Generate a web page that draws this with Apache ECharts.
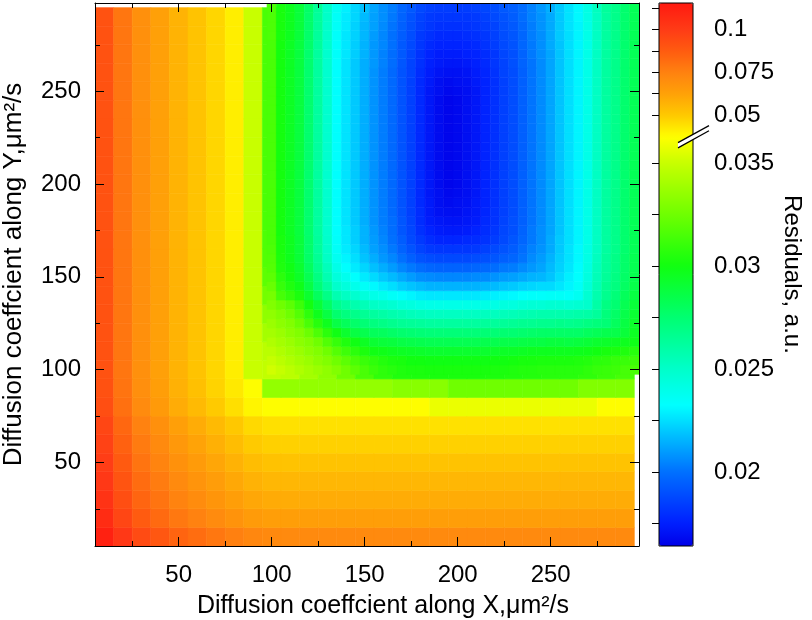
<!DOCTYPE html>
<html><head><meta charset="utf-8">
<script src="https://cdn.jsdelivr.net/npm/echarts@6/dist/echarts.min.js"></script>
<style>html,body{margin:0;padding:0;background:#fff}#chart{width:812px;height:620px}</style>
</head><body><div id="chart"></div>
<script>
// ---------------- DATA ----------------
const xCoarse = [10,20,30,40,50,60,70,80,90,100,110,120,130,140,150,160,170,180,190,200,210,220,230,240,250,260,270,280,290];
const yCoarse = [10,20,30,40,50,60,70,80,90,100,110,120,130,140,150,160,170,180,190,200,210,220,230,240,250,260,270,280,290];
// coarse rows y = 10..100, columns x = 10..290
const coarseBottom = [
[0.112,0.1016,0.0938,0.0891,0.0846,0.0814,0.0782,0.0752,0.0726,0.0716,0.0714,0.0714,0.0714,0.0714,0.0714,0.0714,0.0714,0.0714,0.0714,0.0714,0.0714,0.0714,0.0714,0.0714,0.0714,0.0714,0.0714,0.0714,0.0714],
[0.1065,0.0957,0.0876,0.0825,0.0778,0.0743,0.0709,0.0676,0.0647,0.0636,0.0634,0.0634,0.0634,0.0634,0.0634,0.0634,0.0634,0.0634,0.0634,0.0634,0.0634,0.0634,0.0634,0.0634,0.0634,0.0634,0.0634,0.0634,0.0634],
[0.1037,0.0927,0.0843,0.0791,0.0742,0.0705,0.067,0.0635,0.0604,0.0592,0.059,0.059,0.059,0.059,0.059,0.059,0.059,0.059,0.059,0.059,0.059,0.059,0.059,0.059,0.059,0.059,0.059,0.059,0.059],
[0.1015,0.0903,0.0817,0.0764,0.0713,0.0675,0.0638,0.0601,0.0569,0.0556,0.0554,0.0554,0.0554,0.0554,0.0554,0.0554,0.0554,0.0554,0.0554,0.0554,0.0554,0.0554,0.0554,0.0554,0.0554,0.0554,0.0554,0.0554,0.0554],
[0.0994,0.088,0.0792,0.0738,0.0685,0.0646,0.0608,0.0569,0.0534,0.052,0.0518,0.0518,0.0518,0.0518,0.0518,0.0518,0.0518,0.0518,0.0518,0.0518,0.0518,0.0518,0.0518,0.0518,0.0518,0.0518,0.0518,0.0518,0.0518],
[0.0973,0.0857,0.0768,0.0712,0.0657,0.0617,0.0576,0.0535,0.0497,0.0482,0.048,0.048,0.048,0.048,0.048,0.048,0.048,0.048,0.048,0.048,0.048,0.048,0.048,0.048,0.048,0.048,0.048,0.048,0.048],
[0.0955,0.0837,0.0745,0.0688,0.0631,0.0589,0.0546,0.0502,0.0461,0.0445,0.0442,0.0442,0.0442,0.0442,0.0442,0.0442,0.0442,0.0442,0.0442,0.0442,0.0442,0.0442,0.0442,0.0442,0.0442,0.0442,0.0442,0.0442,0.0442],
[0.0926,0.0804,0.071,0.0649,0.0589,0.0544,0.0497,0.0446,0.0396,0.0374,0.037,0.037,0.037,0.037,0.037,0.037,0.037,0.037,0.0358,0.0358,0.0358,0.0358,0.0358,0.0358,0.0358,0.0358,0.0358,0.0366,0.0366],
[0.0914,0.0792,0.0696,0.0634,0.0573,0.0525,0.0476,0.0422,0.0365,0.0335,0.0335,0.0335,0.0335,0.0335,0.0335,0.0335,0.0332,0.0332,0.0332,0.0325,0.0325,0.0325,0.0325,0.0325,0.0325,0.0325,0.033,0.033,0.033],
[0.091,0.0787,0.069,0.0628,0.0566,0.0518,0.0468,0.0412,0.035,0.0348,0.0346,0.034,0.0334,0.0325,0.0315,0.0308,0.0304,0.0303,0.0302,0.0302,0.0302,0.0303,0.0304,0.0305,0.0306,0.0306,0.0308,0.0311,0.0314]
];
// coarse rows y = 110..290, columns x = 10..100
const coarseLeft = [
[0.091,0.0787,0.069,0.0628,0.0566,0.0518,0.0468,0.0412,0.035,0.0346],
[0.091,0.0787,0.069,0.0628,0.0566,0.0518,0.0468,0.0412,0.035,0.034],
[0.091,0.0787,0.069,0.0628,0.0566,0.0518,0.0468,0.0412,0.035,0.0334],
[0.091,0.0787,0.069,0.0628,0.0566,0.0518,0.0468,0.0412,0.035,0.0326],
[0.091,0.0787,0.069,0.0628,0.0566,0.0518,0.0468,0.0412,0.035,0.032],
[0.091,0.0787,0.069,0.0628,0.0566,0.0518,0.0468,0.0412,0.035,0.0317],
[0.091,0.0787,0.069,0.0628,0.0566,0.0518,0.0468,0.0412,0.035,0.0316],
[0.091,0.0787,0.069,0.0628,0.0566,0.0518,0.0468,0.0412,0.035,0.0315],
[0.091,0.0787,0.069,0.0628,0.0566,0.0518,0.0468,0.0412,0.035,0.0315],
[0.091,0.0787,0.069,0.0628,0.0566,0.0518,0.0468,0.0412,0.035,0.0315],
[0.091,0.0787,0.069,0.0628,0.0566,0.0518,0.0468,0.0412,0.035,0.0315],
[0.091,0.0787,0.069,0.0628,0.0566,0.0518,0.0468,0.0412,0.035,0.0315],
[0.091,0.0787,0.069,0.0628,0.0566,0.0518,0.0468,0.0412,0.035,0.0315],
[0.091,0.0787,0.069,0.0628,0.0566,0.0518,0.0468,0.0412,0.035,0.0315],
[0.091,0.0787,0.069,0.0628,0.0566,0.0518,0.0468,0.0412,0.035,0.0315],
[0.091,0.0787,0.069,0.0628,0.0566,0.0518,0.0468,0.0412,0.035,0.0315],
[0.091,0.0787,0.069,0.0628,0.0566,0.0518,0.0468,0.0412,0.035,0.0315],
[0.091,0.0787,0.069,0.0628,0.0566,0.0518,0.0468,0.0412,0.035,0.0315],
[0.091,0.0787,0.069,0.0628,0.0566,0.0518,0.0468,0.0412,0.035,0.0315]
];
const xFine = [100,105,110,115,120,125,130,135,140,145,150,155,160,165,170,175,180,185,190,195,200,205,210,215,220,225,230,235,240,245,250,255,260,265,270,275,280,285,290,295];
const yFine = [100,105,110,115,120,125,130,135,140,145,150,155,160,165,170,175,180,185,190,195,200,205,210,215,220,225,230,235,240,245,250,255,260,265,270,275,280,285,290,295];
// fine rows y = 100..295, columns x = 100..295
const fineRows = [
[0.0352,0.0349,0.0346,0.0343,0.034,0.0337,0.0334,0.033,0.0325,0.032,0.0315,0.0311,0.0308,0.0306,0.0304,0.0303,0.0303,0.0302,0.0302,0.0302,0.0302,0.0302,0.0302,0.0302,0.0303,0.0303,0.0304,0.0305,0.0305,0.0306,0.0306,0.0306,0.0306,0.0306,0.0308,0.031,0.0311,0.0312,0.0314,0.0315],
[0.0349,0.0346,0.0343,0.034,0.0337,0.0333,0.033,0.0325,0.032,0.0315,0.0311,0.0308,0.0305,0.0303,0.0302,0.03,0.03,0.0299,0.0299,0.0299,0.0299,0.0299,0.0299,0.0299,0.03,0.03,0.0301,0.0302,0.0302,0.0303,0.0303,0.0303,0.0303,0.0304,0.0305,0.0307,0.0308,0.031,0.0311,0.0312],
[0.0346,0.0343,0.034,0.0337,0.0333,0.033,0.0325,0.0318,0.0312,0.0307,0.0303,0.0299,0.0298,0.0296,0.0295,0.0294,0.0293,0.0292,0.0292,0.0292,0.0292,0.0292,0.0292,0.0292,0.0293,0.0294,0.0294,0.0295,0.0296,0.0296,0.0296,0.0296,0.0296,0.0297,0.0298,0.03,0.0302,0.0303,0.0304,0.0306],
[0.0343,0.034,0.0337,0.0333,0.033,0.0325,0.0317,0.031,0.0304,0.0299,0.0295,0.0291,0.0289,0.0288,0.0286,0.0285,0.0284,0.0283,0.0283,0.0283,0.0283,0.0283,0.0283,0.0284,0.0284,0.0285,0.0285,0.0286,0.0287,0.0287,0.0288,0.0288,0.0287,0.0288,0.029,0.0292,0.0293,0.0295,0.0296,0.0298],
[0.034,0.0337,0.0333,0.033,0.0324,0.0316,0.0307,0.0299,0.0292,0.0287,0.0284,0.0281,0.028,0.0278,0.0276,0.0275,0.0274,0.0273,0.0273,0.0273,0.0273,0.0273,0.0273,0.0274,0.0274,0.0275,0.0275,0.0276,0.0277,0.0278,0.0278,0.0278,0.0278,0.0278,0.028,0.0282,0.0284,0.0285,0.0289,0.0295],
[0.0337,0.0333,0.033,0.0324,0.0315,0.0306,0.0296,0.0286,0.0281,0.0277,0.0274,0.0271,0.0269,0.0267,0.0265,0.0264,0.0263,0.0262,0.0262,0.0262,0.0262,0.0262,0.0262,0.0263,0.0263,0.0264,0.0265,0.0266,0.0266,0.0267,0.0267,0.0268,0.0267,0.0268,0.027,0.0272,0.0274,0.028,0.0287,0.0293],
[0.0334,0.033,0.0325,0.0318,0.0308,0.0297,0.0287,0.0276,0.0271,0.0268,0.0265,0.0262,0.026,0.0258,0.0256,0.0254,0.0253,0.0252,0.0252,0.0252,0.0252,0.0252,0.0252,0.0253,0.0253,0.0254,0.0255,0.0256,0.0257,0.0258,0.0258,0.0258,0.0258,0.0259,0.026,0.0263,0.0272,0.0278,0.0285,0.0291],
[0.033,0.0325,0.032,0.0312,0.0301,0.029,0.0279,0.0267,0.0262,0.0258,0.0255,0.0251,0.0249,0.0247,0.0244,0.0243,0.0241,0.024,0.024,0.024,0.024,0.024,0.024,0.0241,0.0241,0.0243,0.0243,0.0245,0.0246,0.0246,0.0247,0.0247,0.0246,0.0247,0.0249,0.026,0.027,0.0275,0.0283,0.0289],
[0.0327,0.0314,0.0309,0.0303,0.0292,0.028,0.0269,0.0257,0.0252,0.0248,0.0244,0.024,0.0238,0.0235,0.0232,0.023,0.0228,0.0227,0.0227,0.0227,0.0227,0.0227,0.0227,0.0228,0.0229,0.023,0.0231,0.0233,0.0234,0.0234,0.0235,0.0235,0.0234,0.0237,0.0247,0.0258,0.0267,0.0273,0.0281,0.0287],
[0.0323,0.031,0.0304,0.0298,0.0287,0.0274,0.0262,0.0249,0.0244,0.0239,0.0235,0.0231,0.0228,0.0225,0.0221,0.0219,0.0217,0.0215,0.0215,0.0215,0.0215,0.0215,0.0215,0.0216,0.0217,0.0219,0.022,0.0222,0.0223,0.0224,0.0224,0.0227,0.023,0.0235,0.0245,0.0256,0.0266,0.0271,0.0279,0.0285],
[0.032,0.0307,0.0301,0.0294,0.0283,0.027,0.0257,0.0244,0.0238,0.0233,0.0228,0.0224,0.022,0.0217,0.0213,0.021,0.0207,0.0206,0.0205,0.0205,0.0205,0.0205,0.0206,0.0206,0.0208,0.021,0.0211,0.0213,0.0215,0.0216,0.0219,0.0224,0.0229,0.0233,0.0243,0.0255,0.0264,0.027,0.0278,0.0284],
[0.0318,0.0304,0.0299,0.0292,0.028,0.0267,0.0254,0.024,0.0233,0.0228,0.0223,0.0218,0.0214,0.021,0.0205,0.0202,0.0199,0.0197,0.0196,0.0196,0.0196,0.0196,0.0197,0.0198,0.0199,0.0202,0.0203,0.0206,0.0209,0.0212,0.0217,0.0222,0.0227,0.0232,0.0242,0.0254,0.0263,0.0269,0.0277,0.0283],
[0.0317,0.0303,0.0297,0.029,0.0278,0.0265,0.0251,0.0237,0.023,0.0225,0.0219,0.0214,0.0209,0.0205,0.02,0.0195,0.0191,0.0189,0.0188,0.0188,0.0188,0.0188,0.0189,0.019,0.0192,0.0195,0.0197,0.0201,0.0206,0.021,0.0215,0.0221,0.0226,0.0231,0.0241,0.0253,0.0263,0.0269,0.0277,0.0283],
[0.0316,0.0302,0.0296,0.0289,0.0277,0.0263,0.025,0.0235,0.0228,0.0223,0.0217,0.0211,0.0207,0.0202,0.0196,0.0191,0.0186,0.0183,0.0182,0.0182,0.0182,0.0182,0.0183,0.0185,0.0188,0.0191,0.0194,0.0199,0.0204,0.0208,0.0213,0.022,0.0226,0.0231,0.0241,0.0252,0.0262,0.0268,0.0276,0.0282],
[0.0315,0.0302,0.0296,0.0289,0.0277,0.0263,0.0249,0.0234,0.0227,0.0221,0.0215,0.021,0.0205,0.02,0.0194,0.0188,0.0183,0.0179,0.0177,0.0177,0.0177,0.0178,0.0179,0.0181,0.0184,0.0188,0.0192,0.0197,0.0202,0.0207,0.0213,0.022,0.0225,0.023,0.024,0.0252,0.0262,0.0268,0.0276,0.0282],
[0.0315,0.0301,0.0295,0.0288,0.0276,0.0262,0.0248,0.0233,0.0227,0.0221,0.0215,0.0209,0.0204,0.0199,0.0192,0.0187,0.018,0.0176,0.0174,0.0173,0.0173,0.0174,0.0176,0.0179,0.0182,0.0187,0.019,0.0196,0.0202,0.0207,0.0212,0.0219,0.0225,0.023,0.024,0.0252,0.0262,0.0268,0.0276,0.0282],
[0.0315,0.0301,0.0295,0.0288,0.0276,0.0262,0.0248,0.0233,0.0226,0.022,0.0214,0.0208,0.0203,0.0199,0.0192,0.0186,0.0179,0.0174,0.0172,0.0171,0.0171,0.0172,0.0174,0.0178,0.0181,0.0186,0.019,0.0195,0.0201,0.0206,0.0212,0.0219,0.0225,0.023,0.024,0.0252,0.0262,0.0268,0.0276,0.0282],
[0.0315,0.0301,0.0295,0.0288,0.0276,0.0262,0.0248,0.0233,0.0226,0.022,0.0214,0.0208,0.0203,0.0198,0.0191,0.0185,0.0179,0.0173,0.017,0.0169,0.0169,0.0171,0.0173,0.0177,0.0181,0.0185,0.0189,0.0195,0.0201,0.0206,0.0212,0.0219,0.0225,0.023,0.024,0.0252,0.0262,0.0268,0.0276,0.0282],
[0.0315,0.0301,0.0295,0.0288,0.0276,0.0262,0.0248,0.0233,0.0226,0.022,0.0214,0.0208,0.0203,0.0198,0.0191,0.0185,0.0178,0.0173,0.0169,0.0168,0.0169,0.017,0.0173,0.0176,0.018,0.0185,0.0189,0.0195,0.0201,0.0206,0.0212,0.0219,0.0225,0.023,0.024,0.0252,0.0262,0.0268,0.0276,0.0282],
[0.0315,0.0301,0.0295,0.0288,0.0276,0.0262,0.0248,0.0233,0.0226,0.022,0.0214,0.0208,0.0203,0.0198,0.0191,0.0185,0.0178,0.0172,0.0169,0.0167,0.0168,0.0169,0.0172,0.0176,0.018,0.0185,0.0189,0.0195,0.0201,0.0206,0.0212,0.0219,0.0225,0.023,0.024,0.0252,0.0262,0.0268,0.0276,0.0282],
[0.0315,0.0301,0.0295,0.0288,0.0276,0.0262,0.0248,0.0233,0.0226,0.022,0.0214,0.0208,0.0203,0.0198,0.0191,0.0185,0.0178,0.0172,0.0168,0.0166,0.0167,0.0169,0.0172,0.0176,0.018,0.0185,0.0189,0.0195,0.0201,0.0206,0.0212,0.0219,0.0225,0.023,0.024,0.0252,0.0262,0.0268,0.0276,0.0282],
[0.0315,0.0301,0.0295,0.0288,0.0276,0.0262,0.0248,0.0233,0.0226,0.022,0.0214,0.0208,0.0203,0.0198,0.0191,0.0185,0.0178,0.0172,0.0168,0.0166,0.0167,0.0169,0.0172,0.0176,0.018,0.0185,0.0189,0.0195,0.0201,0.0206,0.0212,0.0219,0.0225,0.023,0.024,0.0252,0.0262,0.0268,0.0276,0.0282],
[0.0315,0.0301,0.0295,0.0288,0.0276,0.0262,0.0248,0.0233,0.0226,0.022,0.0214,0.0208,0.0203,0.0198,0.0191,0.0185,0.0178,0.0172,0.0168,0.0166,0.0167,0.0169,0.0172,0.0176,0.018,0.0185,0.0189,0.0195,0.0201,0.0206,0.0212,0.0219,0.0225,0.023,0.024,0.0252,0.0262,0.0268,0.0276,0.0282],
[0.0315,0.0301,0.0295,0.0288,0.0276,0.0262,0.0248,0.0233,0.0226,0.022,0.0214,0.0208,0.0203,0.0198,0.0191,0.0185,0.0178,0.0172,0.0168,0.0166,0.0167,0.0169,0.0172,0.0176,0.018,0.0185,0.0189,0.0195,0.0201,0.0206,0.0212,0.0219,0.0225,0.023,0.024,0.0252,0.0262,0.0268,0.0276,0.0282],
[0.0315,0.0301,0.0295,0.0288,0.0276,0.0262,0.0248,0.0233,0.0226,0.022,0.0214,0.0208,0.0203,0.0198,0.0191,0.0185,0.0178,0.0172,0.0168,0.0166,0.0167,0.0169,0.0172,0.0176,0.018,0.0185,0.0189,0.0195,0.0201,0.0206,0.0212,0.0219,0.0225,0.023,0.024,0.0252,0.0262,0.0268,0.0276,0.0282],
[0.0315,0.0301,0.0295,0.0288,0.0276,0.0262,0.0248,0.0233,0.0226,0.022,0.0214,0.0208,0.0203,0.0198,0.0191,0.0185,0.0178,0.0172,0.0168,0.0166,0.0167,0.0169,0.0172,0.0176,0.018,0.0185,0.0189,0.0195,0.0201,0.0206,0.0212,0.0219,0.0225,0.023,0.024,0.0252,0.0262,0.0268,0.0276,0.0282],
[0.0315,0.0301,0.0295,0.0288,0.0276,0.0262,0.0248,0.0233,0.0226,0.022,0.0214,0.0208,0.0203,0.0198,0.0191,0.0185,0.0178,0.0172,0.0168,0.0166,0.0167,0.0169,0.0172,0.0176,0.018,0.0185,0.0189,0.0195,0.0201,0.0206,0.0212,0.0219,0.0225,0.023,0.024,0.0252,0.0262,0.0268,0.0276,0.0282],
[0.0315,0.0301,0.0295,0.0288,0.0276,0.0262,0.0248,0.0233,0.0226,0.022,0.0214,0.0208,0.0203,0.0198,0.0191,0.0185,0.0178,0.0172,0.0168,0.0166,0.0167,0.0169,0.0172,0.0176,0.018,0.0185,0.0189,0.0195,0.0201,0.0206,0.0212,0.0219,0.0225,0.023,0.024,0.0252,0.0262,0.0268,0.0276,0.0282],
[0.0315,0.0301,0.0295,0.0288,0.0276,0.0262,0.0248,0.0233,0.0226,0.022,0.0214,0.0208,0.0203,0.0198,0.0191,0.0185,0.0178,0.0172,0.0168,0.0166,0.0167,0.0169,0.0172,0.0176,0.018,0.0185,0.0189,0.0195,0.0201,0.0206,0.0212,0.0219,0.0225,0.023,0.024,0.0252,0.0262,0.0268,0.0276,0.0282],
[0.0315,0.0301,0.0295,0.0288,0.0276,0.0262,0.0248,0.0233,0.0226,0.022,0.0214,0.0208,0.0203,0.0198,0.0191,0.0185,0.0178,0.0172,0.0168,0.0166,0.0167,0.0169,0.0172,0.0176,0.018,0.0185,0.0189,0.0195,0.0201,0.0206,0.0212,0.0219,0.0225,0.023,0.024,0.0252,0.0262,0.0268,0.0276,0.0282],
[0.0315,0.0301,0.0295,0.0288,0.0276,0.0262,0.0248,0.0233,0.0226,0.022,0.0214,0.0208,0.0203,0.0198,0.0191,0.0185,0.0178,0.0172,0.0169,0.0167,0.0168,0.0169,0.0172,0.0176,0.018,0.0185,0.0189,0.0195,0.0201,0.0206,0.0212,0.0219,0.0225,0.023,0.024,0.0252,0.0262,0.0268,0.0276,0.0282],
[0.0315,0.0301,0.0295,0.0288,0.0276,0.0262,0.0248,0.0233,0.0226,0.022,0.0214,0.0208,0.0203,0.0198,0.0191,0.0185,0.0178,0.0173,0.0169,0.0168,0.0169,0.017,0.0173,0.0176,0.018,0.0185,0.0189,0.0195,0.0201,0.0206,0.0212,0.0219,0.0225,0.023,0.024,0.0252,0.0262,0.0268,0.0276,0.0282],
[0.0315,0.0301,0.0295,0.0288,0.0276,0.0262,0.0248,0.0233,0.0226,0.022,0.0214,0.0208,0.0203,0.0198,0.0191,0.0186,0.0179,0.0174,0.0171,0.017,0.017,0.0171,0.0174,0.0177,0.0181,0.0186,0.0189,0.0195,0.0201,0.0206,0.0212,0.0219,0.0225,0.023,0.024,0.0252,0.0262,0.0268,0.0276,0.0282],
[0.0315,0.0301,0.0295,0.0288,0.0276,0.0262,0.0248,0.0233,0.0226,0.022,0.0214,0.0209,0.0204,0.0199,0.0192,0.0186,0.018,0.0175,0.0173,0.0172,0.0172,0.0173,0.0175,0.0178,0.0182,0.0186,0.019,0.0196,0.0201,0.0206,0.0212,0.0219,0.0225,0.023,0.024,0.0252,0.0262,0.0268,0.0276,0.0282],
[0.0315,0.0301,0.0295,0.0288,0.0276,0.0262,0.0248,0.0234,0.0227,0.0221,0.0215,0.0209,0.0204,0.0199,0.0193,0.0187,0.0181,0.0176,0.0174,0.0174,0.0174,0.0175,0.0176,0.0179,0.0182,0.0187,0.019,0.0196,0.0202,0.0207,0.0212,0.0219,0.0225,0.023,0.024,0.0252,0.0262,0.0268,0.0276,0.0282],
[0.0315,0.0301,0.0295,0.0288,0.0277,0.0263,0.0249,0.0234,0.0227,0.0221,0.0215,0.0209,0.0205,0.02,0.0193,0.0188,0.0182,0.0178,0.0176,0.0176,0.0176,0.0177,0.0178,0.0181,0.0184,0.0188,0.0191,0.0197,0.0202,0.0207,0.0213,0.0219,0.0225,0.023,0.024,0.0252,0.0262,0.0268,0.0276,0.0282],
[0.0316,0.0302,0.0296,0.0289,0.0277,0.0263,0.0249,0.0234,0.0227,0.0222,0.0216,0.021,0.0205,0.02,0.0194,0.0189,0.0183,0.018,0.0178,0.0178,0.0178,0.0179,0.018,0.0182,0.0185,0.0189,0.0192,0.0197,0.0203,0.0207,0.0213,0.022,0.0225,0.023,0.024,0.0252,0.0262,0.0268,0.0276,0.0282],
[0.0316,0.0302,0.0296,0.0289,0.0277,0.0263,0.0249,0.0235,0.0228,0.0222,0.0216,0.0211,0.0206,0.0201,0.0195,0.019,0.0185,0.0182,0.018,0.018,0.018,0.0181,0.0182,0.0184,0.0186,0.019,0.0193,0.0198,0.0203,0.0208,0.0213,0.022,0.0226,0.023,0.024,0.0252,0.0262,0.0268,0.0276,0.0282],
[0.0316,0.0302,0.0296,0.0289,0.0277,0.0263,0.025,0.0235,0.0228,0.0223,0.0217,0.0211,0.0207,0.0202,0.0196,0.0191,0.0186,0.0183,0.0182,0.0182,0.0182,0.0182,0.0183,0.0185,0.0188,0.0191,0.0194,0.0199,0.0204,0.0208,0.0213,0.022,0.0226,0.0231,0.0241,0.0252,0.0262,0.0268,0.0276,0.0282],
[0.0316,0.0302,0.0296,0.0289,0.0278,0.0264,0.025,0.0236,0.0229,0.0223,0.0218,0.0212,0.0207,0.0203,0.0197,0.0193,0.0188,0.0185,0.0184,0.0184,0.0184,0.0184,0.0185,0.0187,0.0189,0.0193,0.0195,0.0199,0.0204,0.0209,0.0214,0.022,0.0226,0.0231,0.0241,0.0253,0.0263,0.0268,0.0276,0.0282]
];
const xMajorTicks = [50,100,150,200,250];
const xMinorTicks = [25,75,125,175,225,275];
const yMajorTicks = [50,100,150,200,250];
const yMinorTicks = [25,75,125,175,225,275];
const cbLabelValues = [0.02,0.025,0.03,0.035,0.05,0.075,0.1];
const cbMinorValues = [0.0175,0.0225,0.0275,0.0325,0.0625,0.0875,0.1125];

// ------------- colour-bar scale (broken axis) -------------
const CB_LEN = 543;
const LOW_SEG = {v0: 0.02, p0: 74, k: 20600};
const HIGH_SEG = {v0: 0.05, p0: 431, k: 1712};
const BREAK_P = 409;
function cbPos(v) {
  let p = LOW_SEG.p0 + (v - LOW_SEG.v0) * LOW_SEG.k;
  if (p > BREAK_P) {
    const ph = HIGH_SEG.p0 + (v - HIGH_SEG.v0) * HIGH_SEG.k;
    p = ph >= BREAK_P ? ph : BREAK_P;
  }
  return Math.max(0, Math.min(CB_LEN, p));
}
const colorStops = [[0,'#0000e8'],[23,'#0020ff'],[74,'#0070ff'],[126,'#00e0ff'],[141,'#00ffff'],[178,'#00ffc8'],[229,'#00ff70'],[280,'#10ff10'],[332,'#70ff00'],[383,'#c8ff00'],[409,'#ffff00'],[431,'#ffc800'],[453,'#ffa008'],[474,'#ff8010'],[496,'#ff5a10'],[517,'#ff3a16'],[543,'#ff1a10']];
function hexToRgb(h){return [parseInt(h.slice(1,3),16),parseInt(h.slice(3,5),16),parseInt(h.slice(5,7),16)];}
function rampColor(t){
  for (let i=1;i<colorStops.length;i++){
    if (t <= colorStops[i][0]) {
      const a = colorStops[i-1], b = colorStops[i];
      const f = (t - a[0]) / (b[0] - a[0]);
      const ca = hexToRgb(a[1]), cb = hexToRgb(b[1]);
      return 'rgb(' + ca.map((c,k)=>Math.round(c + (cb[k]-c)*f)).join(',') + ')';
    }
  }
  return colorStops[colorStops.length-1][1];
}
const colorList = [];
for (let i=0;i<=181;i++) colorList.push(rampColor(i*CB_LEN/181));

// ------------- series data -------------
const coarseData = [];
coarseBottom.forEach((row,j)=>row.forEach((v,i)=>coarseData.push([xCoarse[i], yCoarse[j], cbPos(v), v])));
coarseLeft.forEach((row,j)=>row.forEach((v,i)=>coarseData.push([xCoarse[i], yCoarse[coarseBottom.length + j], cbPos(v), v])));
const fineData = [];
fineRows.forEach((row,j)=>row.forEach((v,i)=>fineData.push([xFine[i], yFine[j], cbPos(v), v])));

function cellRenderer(half) {
  return function (params, api) {
    const x = api.value(0), y = api.value(1);
    const a = api.coord([x - half, y + half]);
    const b = api.coord([x + half, y - half]);
    const c = api.visual('color');
    return {type:'rect', shape:{x:a[0], y:a[1], width:b[0]-a[0], height:b[1]-a[1]}, style:{fill:c, stroke:c, lineWidth:0.6}};
  };
}

const FONT = 'Liberation Sans, Arial, Helvetica, sans-serif';
const black = '#000';
function axisBase(extra){
  return Object.assign({type:'value', min:5, max:297.5, gridIndex:0, z:10,
    splitLine:{show:false}, axisLine:{show:false, onZero:false, lineStyle:{color:black, width:1}},
    axisLabel:{show:false}}, extra);
}
const chart = echarts.init(document.getElementById('chart'), null, {renderer:'canvas'});
const option = {
  animation:false,
  backgroundColor:'#fff',
  textStyle:{fontFamily:FONT},
  grid:[
    {left:95, top:3, width:544, height:543, show:false, outerBoundsMode:'none'},
    {left:659, top:3, width:34, height:543, show:true, borderColor:black, borderWidth:1, backgroundColor:'transparent', z:10, outerBoundsMode:'none'}
  ],
  xAxis:[
    axisBase({position:'bottom', axisLine:{show:true, onZero:false, lineStyle:{color:black,width:1}},
      axisTick:{show:true, inside:true, length:9, customValues:xMajorTicks, lineStyle:{color:black}},
      axisLabel:{show:true, customValues:xMajorTicks, fontSize:24, color:black, fontFamily:FONT, margin:17},
      name:'Diffusion coeffcient along X,μm²/s', nameLocation:'middle', nameGap:48,
      nameTextStyle:{fontSize:25, color:black, fontFamily:FONT, padding:[0,0,0,32]}}),
    axisBase({position:'bottom', axisTick:{show:true, inside:true, length:5, customValues:xMinorTicks, lineStyle:{color:black}}}),
    axisBase({position:'top', axisLine:{show:true, onZero:false, lineStyle:{color:black,width:1}},
      axisTick:{show:true, inside:true, length:9, customValues:xMajorTicks, lineStyle:{color:black}}}),
    axisBase({position:'top', axisTick:{show:true, inside:true, length:5, customValues:xMinorTicks, lineStyle:{color:black}}}),
    {type:'value', gridIndex:1, min:0, max:1, show:false}
  ],
  yAxis:[
    axisBase({position:'left', axisLine:{show:true, onZero:false, lineStyle:{color:black,width:1}},
      axisTick:{show:true, inside:true, length:9, customValues:yMajorTicks, lineStyle:{color:black}},
      axisLabel:{show:true, customValues:yMajorTicks, fontSize:24, color:black, fontFamily:FONT, margin:14},
      name:'Diffusion coeffcient along Y,μm²/s', nameLocation:'middle', nameGap:68,
      nameTextStyle:{fontSize:26, color:black, fontFamily:FONT}}),
    axisBase({position:'left', axisTick:{show:true, inside:true, length:5, customValues:yMinorTicks, lineStyle:{color:black}}}),
    axisBase({position:'right', axisLine:{show:true, onZero:false, lineStyle:{color:black,width:1}},
      axisTick:{show:true, inside:true, length:9, customValues:yMajorTicks, lineStyle:{color:black}}}),
    axisBase({position:'right', axisTick:{show:true, inside:true, length:5, customValues:yMinorTicks, lineStyle:{color:black}}}),
    {type:'value', gridIndex:1, min:0, max:CB_LEN, position:'right', z:10,
      splitLine:{show:false}, axisLine:{show:false},
      axisTick:{show:true, inside:true, length:7, customValues:cbLabelValues.concat(cbMinorValues).map(cbPos), lineStyle:{color:black}},
      axisLabel:{show:true, customValues:cbLabelValues.map(cbPos), fontSize:24, color:black, fontFamily:FONT, margin:21,
        formatter:function(val){ for (const v of cbLabelValues) { if (Math.abs(cbPos(v)-val) < 0.01) return String(v); } return ''; }},
      name:'Residuals, a.u.', nameLocation:'middle', nameRotate:-90, nameGap:87,
      nameTextStyle:{fontSize:24, color:black, fontFamily:FONT}}
  ],
  visualMap:{
    type:'continuous', dimension:2, min:0, max:CB_LEN, seriesIndex:[0,1],
    orient:'vertical', left:659, top:3, itemWidth:34, itemHeight:CB_LEN, padding:0,
    calculable:false, hoverLink:false, text:null, inRange:{color:colorList}
  },
  series:[
    {type:'custom', name:'coarse', coordinateSystem:'cartesian2d', xAxisIndex:0, yAxisIndex:0, clip:true,
      encode:{x:0, y:1}, renderItem:cellRenderer((xCoarse[1]-xCoarse[0])/2), data:coarseData, z:2},
    {type:'custom', name:'fine', coordinateSystem:'cartesian2d', xAxisIndex:0, yAxisIndex:0, clip:true,
      encode:{x:0, y:1}, renderItem:cellRenderer((xFine[1]-xFine[0])/2), data:fineData, z:3}
  ]
};
chart.setOption(option);
// break marker on the colour bar
const yb = chart.convertToPixel({yAxisIndex:4}, BREAK_P);
const xr = chart.convertToPixel({xAxisIndex:4}, 1);
const slope = -0.55;
const x0 = xr - 15, x1 = xr + 16;
const yc0 = yb - 15*slope, yc1 = yb + 16*slope;
const g = 2.6;
chart.setOption({graphic:[
  {type:'polygon', z:100, shape:{points:[[x0,yc0-g],[x1,yc1-g],[x1,yc1+g],[x0,yc0+g]]}, style:{fill:'#fff', stroke:null}},
  {type:'line', z:101, shape:{x1:x0,y1:yc0-g,x2:x1,y2:yc1-g}, style:{stroke:black, lineWidth:1.2}},
  {type:'line', z:101, shape:{x1:x0,y1:yc0+g,x2:x1,y2:yc1+g}, style:{stroke:black, lineWidth:1.2}}
]});
</script></body></html>
